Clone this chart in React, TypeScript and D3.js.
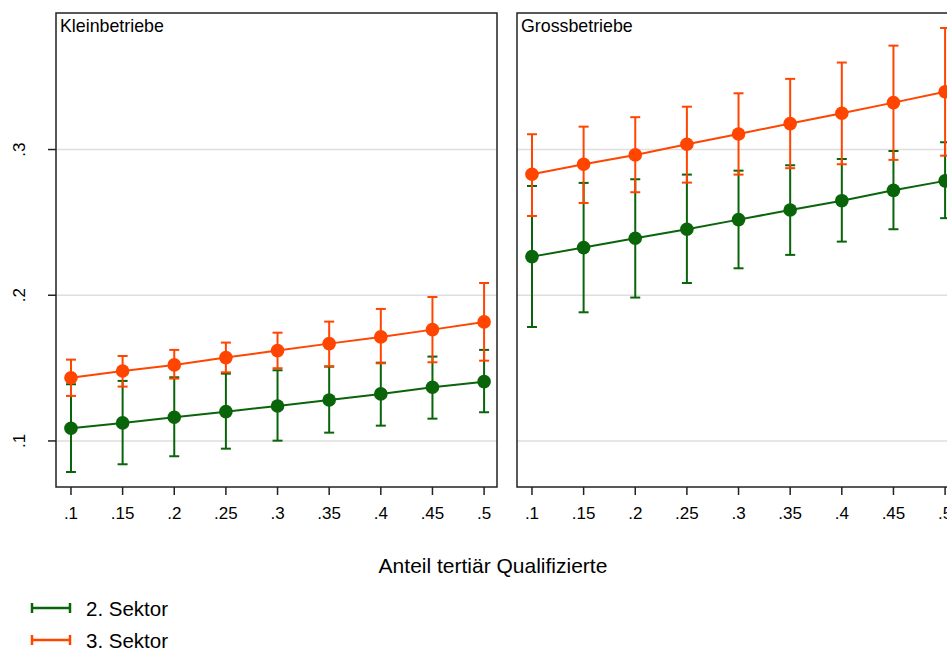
import React from 'react';
import * as d3 from 'd3';

// Predicted shares with 95% CIs
const xValues = [0.1, 0.15, 0.2, 0.25, 0.3, 0.35, 0.4, 0.45, 0.5];
const yTicks = [0.1, 0.2, 0.3];

const kleinSek2 = [0.1087, 0.1124, 0.1163, 0.1201, 0.124, 0.1281, 0.1323, 0.1369, 0.1407];
const kleinSek2Lo = [0.0787, 0.084, 0.0895, 0.0947, 0.1002, 0.1057, 0.1105, 0.1153, 0.1197];
const kleinSek2Hi = [0.1389, 0.1412, 0.1437, 0.1462, 0.1485, 0.151, 0.1537, 0.1579, 0.1625];
const kleinSek3 = [0.1434, 0.148, 0.1522, 0.1572, 0.162, 0.1668, 0.1714, 0.1764, 0.1817];
const kleinSek3Lo = [0.1309, 0.1373, 0.1428, 0.1471, 0.1499, 0.1513, 0.1533, 0.154, 0.1551];
const kleinSek3Hi = [0.1558, 0.1583, 0.1625, 0.1675, 0.1743, 0.1819, 0.1906, 0.1988, 0.2084];

const grossSek2 = [0.2265, 0.2327, 0.2391, 0.2453, 0.2519, 0.2585, 0.2649, 0.272, 0.2785];
const grossSek2Lo = [0.1782, 0.1883, 0.1984, 0.2084, 0.2185, 0.2277, 0.2368, 0.2453, 0.2529];
const grossSek2Hi = [0.275, 0.2771, 0.2796, 0.2828, 0.2855, 0.2892, 0.2935, 0.299, 0.305];
const grossSek3 = [0.283, 0.2899, 0.2963, 0.3036, 0.3107, 0.3178, 0.3249, 0.3322, 0.3397];
const grossSek3Lo = [0.2544, 0.2633, 0.2707, 0.2773, 0.2828, 0.2872, 0.2899, 0.2929, 0.2958];
const grossSek3Hi = [0.3105, 0.3157, 0.3222, 0.3294, 0.3386, 0.3485, 0.3597, 0.3713, 0.3834];

const panelTitles = ['Kleinbetriebe', 'Grossbetriebe'];
const seriesLabels = ['2. Sektor', '3. Sektor'];
const xTitle = 'Anteil tertiär Qualifizierte';

const GREEN = '#0a640a';
const ORANGE = '#ff4500';
const FONT = '"Liberation Sans", Arial, Helvetica, sans-serif';

const width = 947;
const height = 649;
const panelW = 441;
const panelGap = 20;
const top = 13;
const bottom = 487;
const left = 56;

const fmt = (v: number) => d3.format('.2~f')(v).replace(/^0/, '');

type Series = { mean: number[]; lo: number[]; hi: number[]; color: string };

const panels: Series[][] = [
  [
    { mean: kleinSek2, lo: kleinSek2Lo, hi: kleinSek2Hi, color: GREEN },
    { mean: kleinSek3, lo: kleinSek3Lo, hi: kleinSek3Hi, color: ORANGE },
  ],
  [
    { mean: grossSek2, lo: grossSek2Lo, hi: grossSek2Hi, color: GREEN },
    { mean: grossSek3, lo: grossSek3Lo, hi: grossSek3Hi, color: ORANGE },
  ],
];

const y = d3.scaleLinear().domain([0.0684, 0.3937]).range([bottom, top]);

function Panel({ index }: { index: number }) {
  const x0 = left + index * (panelW + panelGap);
  const x = d3.scaleLinear().domain([0.0855, 0.5125]).range([x0, x0 + panelW]);
  const series = panels[index];
  const line = d3.line<number>()
    .x((_, i) => x(xValues[i]))
    .y((d) => y(d));

  return (
    <g>
      {yTicks.map((t) => (
        <line key={t} x1={x0} x2={x0 + panelW} y1={y(t)} y2={y(t)} stroke="#dedede" strokeWidth={1.6} />
      ))}
      {series.map((s, si) => (
        <g key={`ci${si}`} stroke={s.color} strokeWidth={2}>
          {xValues.map((xv, i) => (
            <g key={xv}>
              <line x1={x(xv)} x2={x(xv)} y1={y(s.lo[i])} y2={y(s.hi[i])} />
              <line x1={x(xv) - 5} x2={x(xv) + 5} y1={y(s.lo[i])} y2={y(s.lo[i])} />
              <line x1={x(xv) - 5} x2={x(xv) + 5} y1={y(s.hi[i])} y2={y(s.hi[i])} />
            </g>
          ))}
        </g>
      ))}
      {series.map((s, si) => (
        <g key={`ln${si}`}>
          <path d={line(s.mean) || ''} fill="none" stroke={s.color} strokeWidth={2} />
          {xValues.map((xv, i) => (
            <circle key={xv} cx={x(xv)} cy={y(s.mean[i])} r={6.8} fill={s.color} />
          ))}
        </g>
      ))}
      <rect x={x0} y={top} width={panelW} height={bottom - top} fill="none" stroke="#222" strokeWidth={1.5} />
      <text x={x0 + 4} y={32} fontSize={17.8} fill="#000">{panelTitles[index]}</text>
      {xValues.map((xv) => (
        <g key={xv}>
          <line x1={x(xv)} x2={x(xv)} y1={bottom} y2={bottom + 8} stroke="#222" strokeWidth={1.5} />
          <text x={x(xv)} y={519} fontSize={17} textAnchor="middle" fill="#000">{fmt(xv)}</text>
        </g>
      ))}
      {index === 0 && yTicks.map((t) => (
        <g key={t}>
          <line x1={x0 - 8} x2={x0} y1={y(t)} y2={y(t)} stroke="#222" strokeWidth={1.5} />
          <text transform={`translate(25,${y(t)}) rotate(-90)`} fontSize={17} textAnchor="middle" fill="#000">{fmt(t)}</text>
        </g>
      ))}
    </g>
  );
}

export default function App() {
  const legendColors = [GREEN, ORANGE];
  return (
    <div style={{ position: 'fixed', left: 0, top: 0, width, height, overflow: 'hidden', background: '#fff' }}>
      <svg width={width} height={height} style={{ display: 'block', fontFamily: FONT }}>
        <rect width={width} height={height} fill="#fff" />
        <Panel index={0} />
        <Panel index={1} />
        <text x={493} y={573} fontSize={21} textAnchor="middle" fill="#000">{xTitle}</text>
        {seriesLabels.map((label, i) => {
          const ly = 608 + i * 32;
          return (
            <g key={label}>
              <g stroke={legendColors[i]} strokeWidth={2.5}>
                <line x1={31} x2={71} y1={ly} y2={ly} />
                <line x1={32} x2={32} y1={ly - 5} y2={ly + 5} />
                <line x1={70} x2={70} y1={ly - 5} y2={ly + 5} />
              </g>
              <text x={86} y={ly + 7.5} fontSize={20.5} fill="#000">{label}</text>
            </g>
          );
        })}
      </svg>
    </div>
  );
}
